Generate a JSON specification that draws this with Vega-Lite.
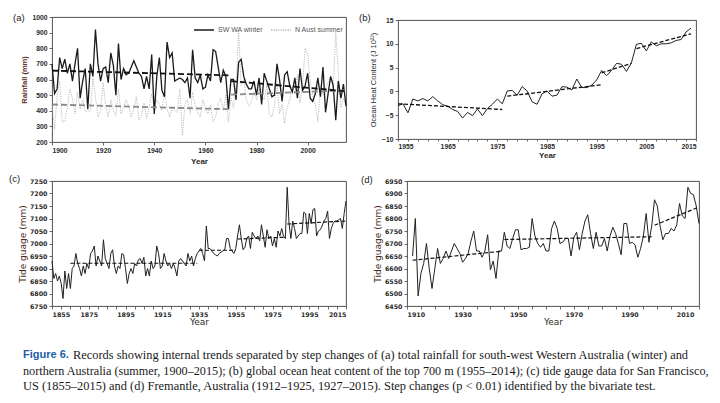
{
  "$schema": "https://vega.github.io/schema/vega-lite/v6.json",
  "background": "white",
  "padding": {"left": 8, "top": 12, "right": 2, "bottom": 0},
  "config": {
    "view": {"stroke": "#404040", "strokeWidth": 0.9},
    "axis": {"grid": false, "domain": false, "tickColor": "#444", "tickSize": 3, "tickWidth": 0.8, "labelColor": "#2b2b2b", "labelFont": "Liberation Sans", "labelFontWeight": "bold", "labelFontSize": 6.8, "labelPadding": 2, "titleFont": "Liberation Sans", "titleFontSize": 8, "titleColor": "#2b2b2b", "titleFontWeight": "bold", "labelOverlap": false},
    "title": {"font": "Liberation Sans", "fontSize": 9.5, "fontWeight": "normal", "color": "#222", "anchor": "start", "frame": "group", "offset": -8}
  },
  "datasets": {
    "rain": [
      {"year":1900,"sw":700,"na":440},{"year":1901,"sw":510,"na":280},{"year":1902,"sw":540,"na":500},{"year":1903,"sw":740,"na":590},{"year":1904,"sw":670,"na":330},{"year":1905,"sw":730,"na":330},{"year":1906,"sw":640,"na":420},{"year":1907,"sw":700,"na":540},{"year":1908,"sw":590,"na":480},{"year":1909,"sw":700,"na":380},
      {"year":1910,"sw":800,"na":520},{"year":1911,"sw":480,"na":410},{"year":1912,"sw":590,"na":470},{"year":1913,"sw":670,"na":400},{"year":1914,"sw":410,"na":390},{"year":1915,"sw":700,"na":400},{"year":1916,"sw":620,"na":610},{"year":1917,"sw":920,"na":490},{"year":1918,"sw":700,"na":360},{"year":1919,"sw":590,"na":400},
      {"year":1920,"sw":670,"na":580},{"year":1921,"sw":680,"na":430},{"year":1922,"sw":580,"na":360},{"year":1923,"sw":770,"na":470},{"year":1924,"sw":690,"na":400},{"year":1925,"sw":500,"na":370},{"year":1926,"sw":830,"na":540},{"year":1927,"sw":600,"na":380},{"year":1928,"sw":670,"na":420},{"year":1929,"sw":630,"na":470},
      {"year":1930,"sw":640,"na":430},{"year":1931,"sw":680,"na":360},{"year":1932,"sw":720,"na":410},{"year":1933,"sw":680,"na":490},{"year":1934,"sw":640,"na":340},{"year":1935,"sw":620,"na":370},{"year":1936,"sw":540,"na":450},{"year":1937,"sw":620,"na":350},{"year":1938,"sw":540,"na":420},{"year":1939,"sw":760,"na":510},
      {"year":1940,"sw":380,"na":410},{"year":1941,"sw":620,"na":470},{"year":1942,"sw":740,"na":440},{"year":1943,"sw":530,"na":400},{"year":1944,"sw":490,"na":530},{"year":1945,"sw":840,"na":410},{"year":1946,"sw":740,"na":360},{"year":1947,"sw":770,"na":420},{"year":1948,"sw":590,"na":400},{"year":1949,"sw":600,"na":390},
      {"year":1950,"sw":610,"na":540},{"year":1951,"sw":600,"na":240},{"year":1952,"sw":580,"na":440},{"year":1953,"sw":610,"na":470},{"year":1954,"sw":480,"na":380},{"year":1955,"sw":790,"na":520},{"year":1956,"sw":610,"na":430},{"year":1957,"sw":580,"na":390},{"year":1958,"sw":630,"na":360},{"year":1959,"sw":540,"na":470},
      {"year":1960,"sw":550,"na":420},{"year":1961,"sw":630,"na":380},{"year":1962,"sw":590,"na":440},{"year":1963,"sw":790,"na":330},{"year":1964,"sw":780,"na":360},{"year":1965,"sw":680,"na":450},{"year":1966,"sw":580,"na":480},{"year":1967,"sw":660,"na":400},{"year":1968,"sw":620,"na":500},{"year":1969,"sw":410,"na":330},
      {"year":1970,"sw":600,"na":480},{"year":1971,"sw":600,"na":420},{"year":1972,"sw":470,"na":560},{"year":1973,"sw":710,"na":910},{"year":1974,"sw":730,"na":560},{"year":1975,"sw":620,"na":600},{"year":1976,"sw":570,"na":470},{"year":1977,"sw":540,"na":430},{"year":1978,"sw":540,"na":460},{"year":1979,"sw":590,"na":520},
      {"year":1980,"sw":500,"na":470},{"year":1981,"sw":610,"na":540},{"year":1982,"sw":440,"na":500},{"year":1983,"sw":640,"na":470},{"year":1984,"sw":590,"na":560},{"year":1985,"sw":540,"na":380},{"year":1986,"sw":490,"na":360},{"year":1987,"sw":500,"na":430},{"year":1988,"sw":700,"na":590},{"year":1989,"sw":600,"na":380},
      {"year":1990,"sw":460,"na":440},{"year":1991,"sw":630,"na":320},{"year":1992,"sw":650,"na":420},{"year":1993,"sw":560,"na":470},{"year":1994,"sw":520,"na":560},{"year":1995,"sw":610,"na":510},{"year":1996,"sw":480,"na":630},{"year":1997,"sw":670,"na":450},{"year":1998,"sw":530,"na":560},{"year":1999,"sw":560,"na":800},
      {"year":2000,"sw":640,"na":760},{"year":2001,"sw":480,"na":590},{"year":2002,"sw":460,"na":490},{"year":2003,"sw":510,"na":440},{"year":2004,"sw":610,"na":330},{"year":2005,"sw":490,"na":560},{"year":2006,"sw":680,"na":500},{"year":2007,"sw":390,"na":550},{"year":2008,"sw":510,"na":580},{"year":2009,"sw":620,"na":620},
      {"year":2010,"sw":560,"na":540},{"year":2011,"sw":340,"na":900},{"year":2012,"sw":590,"na":650},{"year":2013,"sw":480,"na":420},{"year":2014,"sw":570,"na":480},{"year":2015,"sw":430,"na":430}
    ],
    "rainTrend": [
      {"year":1900,"seg":1,"sw":657,"na":440},{"year":1969,"seg":1,"sw":627,"na":410},
      {"year":1970,"seg":2,"sw":590,"na":503},{"year":2015,"seg":2,"sw":525,"na":530}
    ],
    "ohc": [
      {"year":1955,"ohc":-3.0},{"year":1956,"ohc":-2.6},{"year":1957,"ohc":-4.5},{"year":1958,"ohc":-1.6},{"year":1959,"ohc":-2.0},{"year":1960,"ohc":-1.5},{"year":1961,"ohc":-2.0},{"year":1962,"ohc":-1.1},{"year":1963,"ohc":-2.0},{"year":1964,"ohc":-2.8},
      {"year":1965,"ohc":-3.1},{"year":1966,"ohc":-3.8},{"year":1967,"ohc":-4.2},{"year":1968,"ohc":-5.6},{"year":1969,"ohc":-4.4},{"year":1970,"ohc":-5.1},{"year":1971,"ohc":-3.7},{"year":1972,"ohc":-5.1},{"year":1973,"ohc":-3.6},{"year":1974,"ohc":-2.7},
      {"year":1975,"ohc":-1.6},{"year":1976,"ohc":-2.6},{"year":1977,"ohc":0.1},{"year":1978,"ohc":0.2},{"year":1979,"ohc":-0.8},{"year":1980,"ohc":1.0},{"year":1981,"ohc":0.1},{"year":1982,"ohc":-2.2},{"year":1983,"ohc":-2.7},{"year":1984,"ohc":-0.5},
      {"year":1985,"ohc":0.1},{"year":1986,"ohc":-1.0},{"year":1987,"ohc":-0.8},{"year":1988,"ohc":1.0},{"year":1989,"ohc":0.9},{"year":1990,"ohc":0.3},{"year":1991,"ohc":2.6},{"year":1992,"ohc":0.8},{"year":1993,"ohc":0.8},{"year":1994,"ohc":1.3},
      {"year":1995,"ohc":2.4},{"year":1996,"ohc":4.4},{"year":1997,"ohc":3.3},{"year":1998,"ohc":4.4},{"year":1999,"ohc":5.9},{"year":2000,"ohc":5.7},{"year":2001,"ohc":4.2},{"year":2002,"ohc":6.0},{"year":2003,"ohc":9.9},{"year":2004,"ohc":10.1},
      {"year":2005,"ohc":8.5},{"year":2006,"ohc":10.4},{"year":2007,"ohc":9.6},{"year":2008,"ohc":10.0},{"year":2009,"ohc":10.0},{"year":2010,"ohc":10.2},{"year":2011,"ohc":10.7},{"year":2012,"ohc":10.9},{"year":2013,"ohc":12.5},{"year":2014,"ohc":13.3}
    ],
    "ohcTrend": [
      {"year":1955,"seg":1,"ohc":-2.6},{"year":1976,"seg":1,"ohc":-3.8},
      {"year":1977,"seg":2,"ohc":-1.0},{"year":1996,"seg":2,"ohc":1.4},
      {"year":1996,"seg":3,"ohc":3.9},{"year":2002,"seg":3,"ohc":5.9},
      {"year":2003,"seg":4,"ohc":9.0},{"year":2014,"seg":4,"ohc":12.1}
    ],
    "sf": [
      {"year":1855,"mm":6930},{"year":1856,"mm":6860},{"year":1857,"mm":6880},{"year":1858,"mm":6850},{"year":1859,"mm":6870},{"year":1860,"mm":6840},{"year":1861,"mm":6780},{"year":1862,"mm":6890},{"year":1863,"mm":6820},{"year":1864,"mm":6880},
      {"year":1865,"mm":6820},{"year":1866,"mm":6900},{"year":1867,"mm":6910},{"year":1868,"mm":6960},{"year":1869,"mm":6920},{"year":1870,"mm":6900},{"year":1871,"mm":6870},{"year":1872,"mm":6910},{"year":1873,"mm":6880},{"year":1874,"mm":6920},
      {"year":1875,"mm":6900},{"year":1876,"mm":6960},{"year":1877,"mm":6970},{"year":1878,"mm":6990},{"year":1879,"mm":6910},{"year":1880,"mm":6950},{"year":1881,"mm":6930},{"year":1882,"mm":6910},{"year":1883,"mm":7015},{"year":1884,"mm":6940},
      {"year":1885,"mm":6920},{"year":1886,"mm":6900},{"year":1887,"mm":6960},{"year":1888,"mm":6975},{"year":1889,"mm":6910},{"year":1890,"mm":6880},{"year":1891,"mm":6910},{"year":1892,"mm":6900},{"year":1893,"mm":6960},{"year":1894,"mm":6955},
      {"year":1895,"mm":6900},{"year":1896,"mm":6840},{"year":1897,"mm":6880},{"year":1898,"mm":6900},{"year":1899,"mm":6880},{"year":1900,"mm":6920},{"year":1901,"mm":6910},{"year":1902,"mm":6935},{"year":1903,"mm":6940},{"year":1904,"mm":6920},
      {"year":1905,"mm":6945},{"year":1906,"mm":6870},{"year":1907,"mm":6900},{"year":1908,"mm":6870},{"year":1909,"mm":6930},{"year":1910,"mm":6900},{"year":1911,"mm":6910},{"year":1912,"mm":6990},{"year":1913,"mm":6960},{"year":1914,"mm":6900},
      {"year":1915,"mm":6910},{"year":1916,"mm":6960},{"year":1917,"mm":6930},{"year":1918,"mm":6910},{"year":1919,"mm":6920},{"year":1920,"mm":6900},{"year":1921,"mm":6920},{"year":1922,"mm":6900},{"year":1923,"mm":6870},{"year":1924,"mm":6930},
      {"year":1925,"mm":6940},{"year":1926,"mm":6930},{"year":1927,"mm":6920},{"year":1928,"mm":6910},{"year":1929,"mm":6960},{"year":1930,"mm":6930},{"year":1931,"mm":6950},{"year":1932,"mm":6910},{"year":1933,"mm":6940},{"year":1934,"mm":6960},
      {"year":1935,"mm":6970},{"year":1936,"mm":6980},{"year":1937,"mm":6960},{"year":1938,"mm":6930},{"year":1939,"mm":7070},{"year":1940,"mm":6980},{"year":1941,"mm":6980},{"year":1942,"mm":6970},{"year":1943,"mm":6960},{"year":1944,"mm":6955},
      {"year":1945,"mm":6950},{"year":1946,"mm":6960},{"year":1947,"mm":6965},{"year":1948,"mm":6970},{"year":1949,"mm":6975},{"year":1950,"mm":7020},{"year":1951,"mm":7020},{"year":1952,"mm":6980},{"year":1953,"mm":6970},{"year":1954,"mm":6960},
      {"year":1955,"mm":6980},{"year":1956,"mm":7030},{"year":1957,"mm":7075},{"year":1958,"mm":7020},{"year":1959,"mm":6975},{"year":1960,"mm":6985},{"year":1961,"mm":7020},{"year":1962,"mm":7030},{"year":1963,"mm":6980},{"year":1964,"mm":7045},
      {"year":1965,"mm":7030},{"year":1966,"mm":7020},{"year":1967,"mm":7030},{"year":1968,"mm":7010},{"year":1969,"mm":7075},{"year":1970,"mm":7030},{"year":1971,"mm":6985},{"year":1972,"mm":7055},{"year":1973,"mm":7020},{"year":1974,"mm":7030},
      {"year":1975,"mm":6990},{"year":1976,"mm":7020},{"year":1977,"mm":6985},{"year":1978,"mm":7050},{"year":1979,"mm":7030},{"year":1980,"mm":7060},{"year":1981,"mm":7030},{"year":1982,"mm":7020},{"year":1983,"mm":7225},{"year":1984,"mm":7080},
      {"year":1985,"mm":7020},{"year":1986,"mm":7090},{"year":1987,"mm":7060},{"year":1988,"mm":7020},{"year":1989,"mm":7030},{"year":1990,"mm":7040},{"year":1991,"mm":7040},{"year":1992,"mm":7125},{"year":1993,"mm":7120},{"year":1994,"mm":7040},
      {"year":1995,"mm":7120},{"year":1996,"mm":7080},{"year":1997,"mm":7135},{"year":1998,"mm":7140},{"year":1999,"mm":7030},{"year":2000,"mm":7050},{"year":2001,"mm":7055},{"year":2002,"mm":7070},{"year":2003,"mm":7090},{"year":2004,"mm":7100},
      {"year":2005,"mm":7130},{"year":2006,"mm":7020},{"year":2007,"mm":7060},{"year":2008,"mm":7080},{"year":2009,"mm":7090},{"year":2010,"mm":7090},{"year":2011,"mm":7095},{"year":2012,"mm":7100},{"year":2013,"mm":7060},{"year":2014,"mm":7120},
      {"year":2015,"mm":7170}
    ],
    "sfTrend": [
      {"year":1865,"seg":1,"mm":6921},{"year":1934,"seg":1,"mm":6921},
      {"year":1935,"seg":2,"mm":6973},{"year":1955,"seg":2,"mm":6973},
      {"year":1956,"seg":3,"mm":7018},{"year":1982,"seg":3,"mm":7025},
      {"year":1983,"seg":4,"mm":7078},{"year":2015,"seg":4,"mm":7090}
    ],
    "fre": [
      {"year":1912,"mm":6650},{"year":1913,"mm":6800},{"year":1914,"mm":6490},{"year":1915,"mm":6580},{"year":1916,"mm":6620},{"year":1917,"mm":6700},{"year":1918,"mm":6600},{"year":1919,"mm":6520},{"year":1920,"mm":6600},{"year":1921,"mm":6680},
      {"year":1922,"mm":6620},{"year":1923,"mm":6640},{"year":1924,"mm":6670},{"year":1925,"mm":6640},{"year":1927,"mm":6700},{"year":1928,"mm":6680},{"year":1929,"mm":6660},{"year":1930,"mm":6625},{"year":1931,"mm":6640},
      {"year":1932,"mm":6660},{"year":1933,"mm":6710},{"year":1934,"mm":6750},{"year":1935,"mm":6670},{"year":1936,"mm":6670},{"year":1937,"mm":6645},{"year":1938,"mm":6670},{"year":1939,"mm":6735},{"year":1940,"mm":6595},{"year":1941,"mm":6630},
      {"year":1942,"mm":6560},{"year":1943,"mm":6670},{"year":1944,"mm":6670},{"year":1945,"mm":6745},{"year":1946,"mm":6690},{"year":1947,"mm":6680},{"year":1948,"mm":6720},{"year":1949,"mm":6755},{"year":1950,"mm":6755},{"year":1951,"mm":6675},
      {"year":1952,"mm":6680},{"year":1953,"mm":6680},{"year":1954,"mm":6685},{"year":1955,"mm":6800},{"year":1956,"mm":6730},{"year":1957,"mm":6700},{"year":1958,"mm":6685},{"year":1959,"mm":6700},{"year":1960,"mm":6670},{"year":1961,"mm":6670},
      {"year":1962,"mm":6760},{"year":1963,"mm":6790},{"year":1964,"mm":6760},{"year":1965,"mm":6700},{"year":1966,"mm":6705},{"year":1967,"mm":6720},{"year":1968,"mm":6720},{"year":1969,"mm":6650},{"year":1970,"mm":6725},{"year":1971,"mm":6745},
      {"year":1972,"mm":6675},{"year":1973,"mm":6740},{"year":1974,"mm":6790},{"year":1975,"mm":6815},{"year":1976,"mm":6740},{"year":1977,"mm":6680},{"year":1978,"mm":6745},{"year":1979,"mm":6690},{"year":1980,"mm":6690},{"year":1981,"mm":6720},
      {"year":1982,"mm":6670},{"year":1983,"mm":6730},{"year":1984,"mm":6765},{"year":1985,"mm":6740},{"year":1986,"mm":6700},{"year":1987,"mm":6655},{"year":1988,"mm":6780},{"year":1989,"mm":6780},{"year":1990,"mm":6700},{"year":1991,"mm":6705},
      {"year":1992,"mm":6695},{"year":1993,"mm":6645},{"year":1994,"mm":6680},{"year":1995,"mm":6730},{"year":1996,"mm":6820},{"year":1997,"mm":6705},{"year":1998,"mm":6770},{"year":1999,"mm":6875},{"year":2000,"mm":6850},{"year":2001,"mm":6770},
      {"year":2002,"mm":6715},{"year":2003,"mm":6740},{"year":2004,"mm":6740},{"year":2005,"mm":6760},{"year":2006,"mm":6750},{"year":2007,"mm":6775},{"year":2008,"mm":6860},{"year":2009,"mm":6810},{"year":2010,"mm":6800},{"year":2011,"mm":6925},
      {"year":2012,"mm":6900},{"year":2013,"mm":6895},{"year":2014,"mm":6850},{"year":2015,"mm":6780}
    ],
    "freTrend": [
      {"year":1912,"seg":1,"mm":6633},{"year":1944,"seg":1,"mm":6669},
      {"year":1945,"seg":2,"mm":6716},{"year":1998,"seg":2,"mm":6727},
      {"year":1999,"seg":3,"mm":6773},{"year":2015,"seg":3,"mm":6846}
    ],
    "caption": [
      {"line":"1","part":"lead","text":"Figure 6."},
      {"line":"1","part":"body","text":"Records showing internal trends separated by step changes of (a) total rainfall for south-west Western Australia (winter) and"},
      {"line":"2","part":"body","text":"northern Australia (summer, 1900–2015); (b) global ocean heat content of the top 700 m (1955–2014); (c) tide gauge data for San Francisco,"},
      {"line":"3","part":"body","text":"US (1855–2015) and (d) Fremantle, Australia (1912–1925, 1927–2015). Step changes (p < 0.01) identified by the bivariate test."}
    ]
  },
  "vconcat": [
    {
      "hconcat": [
        {
          "width": 294, "height": 125,
          "title": {"text": "(a)", "dx": -39, "offset": -8},
          "layer": [
            {
              "data": {"name": "rain"},
              "mark": {"type": "line", "strokeWidth": 0.9},
              "encoding": {
                "x": {"field": "year", "type": "quantitative", "scale": {"domain": [1900, 2015], "nice": false}, "axis": {"values": [1900, 1920, 1940, 1960, 1980, 2000], "tickCount": 200, "format": "d", "title": "Year", "titlePadding": 4, "labelOverlap": false}},
                "y": {"field": "na", "type": "quantitative", "scale": {"domain": [200, 1000], "nice": false}, "axis": {"values": [200, 300, 400, 500, 600, 700, 800, 900, 1000], "tickCount": 200, "format": "d", "title": "Rainfall (mm)", "titleColor": "#5b3526", "titleFontSize": 7.5, "titlePadding": 3, "labelOverlap": false}},
                "color": {"datum": "N Aust summer", "scale": {"domain": ["SW WA winter", "N Aust summer"], "range": ["#1a1a1a", "#b3b3b3"]}, "legend": {"orient": "top-right", "direction": "horizontal", "title": null, "symbolType": "stroke", "symbolSize": 400, "symbolStrokeWidth": 1.4, "labelFontSize": 7, "labelColor": "#555", "labelFont": "Liberation Sans", "offset": 2, "padding": 0, "columnPadding": 5, "labelOffset": 3}},
                "strokeDash": {"datum": "N Aust summer", "scale": {"domain": ["SW WA winter", "N Aust summer"], "range": [[1, 0], [1.2, 1.2]]}, "legend": {"orient": "top-right", "direction": "horizontal", "title": null, "symbolType": "stroke", "symbolSize": 400, "symbolStrokeWidth": 1.4, "labelFontSize": 7, "labelColor": "#555", "labelFont": "Liberation Sans", "offset": 2, "padding": 0, "columnPadding": 5, "labelOffset": 3}}
              }
            },
            {
              "data": {"name": "rain"},
              "mark": {"type": "line", "strokeWidth": 1.3},
              "encoding": {
                "x": {"field": "year", "type": "quantitative"},
                "y": {"field": "sw", "type": "quantitative"},
                "color": {"datum": "SW WA winter"},
                "strokeDash": {"datum": "SW WA winter"}
              }
            },
            {
              "data": {"name": "rainTrend"},
              "mark": {"type": "line", "color": "#8a8a8a", "strokeWidth": 1.8, "strokeDash": [6, 3]},
              "encoding": {"x": {"field": "year", "type": "quantitative"}, "y": {"field": "na", "type": "quantitative"}, "detail": {"field": "seg"}}
            },
            {
              "data": {"name": "rainTrend"},
              "mark": {"type": "line", "color": "#111", "strokeWidth": 1.8, "strokeDash": [6, 3]},
              "encoding": {"x": {"field": "year", "type": "quantitative"}, "y": {"field": "sw", "type": "quantitative"}, "detail": {"field": "seg"}}
            }
          ]
        },
        {
          "width": 298, "height": 119,
          "title": {"text": "(b)", "dx": -39, "offset": -5},
          "layer": [
            {
              "data": {"name": "ohc"},
              "mark": {"type": "line", "color": "#222", "strokeWidth": 1},
              "encoding": {
                "x": {"field": "year", "type": "quantitative", "scale": {"domain": [1955, 2015], "nice": false}, "axis": {"values": [1955,1957,1959,1961,1963,1965,1967,1969,1971,1973,1975,1977,1979,1981,1983,1985,1987,1989,1991,1993,1995,1997,1999,2001,2003,2005,2007,2009,2011,2013,2015], "tickCount": 200, "labelExpr": "(datum.value - 1955) % 10 == 0 ? datum.value : ''", "title": "Year", "titlePadding": 2, "tickSize": 2, "labelOverlap": false}},
                "y": {"field": "ohc", "type": "quantitative", "scale": {"domain": [-10, 15], "nice": false}, "axis": {"values": [-10, -5, 0, 5, 10, 15], "tickCount": 200, "format": "d", "title": "Ocean Heat Content (J 10²²)", "titleFontWeight": "normal", "titleFontSize": 7.5, "titlePadding": 4, "labelOverlap": false}}
              }
            },
            {
              "data": {"name": "ohcTrend"},
              "mark": {"type": "line", "color": "#111", "strokeWidth": 1.3, "strokeDash": [4, 2]},
              "encoding": {"x": {"field": "year", "type": "quantitative"}, "y": {"field": "ohc", "type": "quantitative"}, "detail": {"field": "seg"}}
            }
          ]
        }
      ],
      "spacing": 52,
      "center": true,
      "bounds": "flush",
      "resolve": {"scale": {"color": "independent", "strokeDash": "independent"}, "legend": {"color": "independent", "strokeDash": "independent"}}
    },
    {
      "hconcat": [
        {
          "width": 294, "height": 125,
          "title": {"text": "(c)", "dx": -43, "offset": -5},
          "layer": [
            {
              "data": {"name": "sf"},
              "mark": {"type": "line", "color": "#222", "strokeWidth": 1},
              "encoding": {
                "x": {"field": "year", "type": "quantitative", "scale": {"domain": [1855, 2015], "nice": false}, "axis": {"values": [1855,1860,1865,1870,1875,1880,1885,1890,1895,1900,1905,1910,1915,1920,1925,1930,1935,1940,1945,1950,1955,1960,1965,1970,1975,1980,1985,1990,1995,2000,2005,2010,2015], "tickCount": 200, "labelExpr": "(datum.value - 1855) % 20 == 0 ? datum.value : ''", "title": "Year", "labelFont": "DejaVu Sans", "labelFontSize": 6.3, "titleFont": "DejaVu Sans", "titleFontSize": 9, "titleFontWeight": "normal", "titlePadding": 0, "labelOverlap": false}},
                "y": {"field": "mm", "type": "quantitative", "scale": {"domain": [6750, 7250], "nice": false, "zero": false}, "axis": {"values": [6750,6800,6850,6900,6950,7000,7050,7100,7150,7200,7250], "tickCount": 200, "format": "d", "title": "Tide guage (mm)", "labelFont": "DejaVu Sans", "labelFontSize": 6.3, "titleFont": "DejaVu Sans", "titleFontSize": 9, "titleFontWeight": "normal", "titleColor": "#4a2a22", "titlePadding": 2, "labelOverlap": false}}
              }
            },
            {
              "data": {"name": "sfTrend"},
              "mark": {"type": "line", "color": "#111", "strokeWidth": 1.2, "strokeDash": [4, 2]},
              "encoding": {"x": {"field": "year", "type": "quantitative"}, "y": {"field": "mm", "type": "quantitative"}, "detail": {"field": "seg"}}
            }
          ]
        },
        {
          "width": 292, "height": 125,
          "title": {"text": "(d)", "dx": -46, "offset": -6},
          "layer": [
            {
              "data": {"name": "fre"},
              "mark": {"type": "line", "color": "#222", "strokeWidth": 1},
              "encoding": {
                "x": {"field": "year", "type": "quantitative", "scale": {"domain": [1910, 2015], "nice": false}, "axis": {"values": [1910,1915,1920,1925,1930,1935,1940,1945,1950,1955,1960,1965,1970,1975,1980,1985,1990,1995,2000,2005,2010,2015], "tickCount": 200, "labelExpr": "(datum.value - 1910) % 20 == 0 ? datum.value : ''", "title": "Year", "labelFont": "DejaVu Sans", "labelFontSize": 6.3, "titleFont": "DejaVu Sans", "titleFontSize": 9, "titleFontWeight": "normal", "titlePadding": 0, "labelOverlap": false}},
                "y": {"field": "mm", "type": "quantitative", "scale": {"domain": [6450, 6950], "nice": false, "zero": false}, "axis": {"values": [6450,6500,6550,6600,6650,6700,6750,6800,6850,6900,6950], "tickCount": 200, "format": "d", "title": "Tide guage (mm)", "labelFont": "DejaVu Sans", "labelFontSize": 6.3, "titleFont": "DejaVu Sans", "titleFontSize": 9, "titleFontWeight": "normal", "titleColor": "#4a2a22", "titlePadding": 2, "labelOverlap": false}}
              }
            },
            {
              "data": {"name": "freTrend"},
              "mark": {"type": "line", "color": "#111", "strokeWidth": 1.2, "strokeDash": [4, 2]},
              "encoding": {"x": {"field": "year", "type": "quantitative"}, "y": {"field": "mm", "type": "quantitative"}, "detail": {"field": "seg"}}
            }
          ]
        }
      ],
      "spacing": 61,
      "center": true,
      "bounds": "flush"
    },
    {
      "width": 640, "height": 60,
      "view": {"stroke": null},
      "data": {"name": "caption"},
      "encoding": {"y": {"field": "line", "type": "ordinal", "axis": null, "scale": {"type": "point", "padding": 0, "range": [22, 53]}}},
      "layer": [
        {
          "transform": [{"filter": "datum.part == 'lead'"}],
          "mark": {"type": "text", "align": "left", "baseline": "middle", "font": "Liberation Sans Narrow, Liberation Sans", "fontWeight": "bold", "fontSize": 11, "color": "#2260a8"},
          "encoding": {"x": {"value": -29}, "text": {"field": "text"}}
        },
        {
          "transform": [{"filter": "datum.part == 'body' && datum.line == '1'"}],
          "mark": {"type": "text", "align": "left", "baseline": "middle", "font": "Liberation Serif", "fontSize": 12.4, "color": "#1a1a1a"},
          "encoding": {"x": {"value": 21}, "text": {"field": "text"}}
        },
        {
          "transform": [{"filter": "datum.part == 'body' && datum.line == '2'"}],
          "mark": {"type": "text", "align": "left", "baseline": "middle", "font": "Liberation Serif", "fontSize": 12.2, "color": "#1a1a1a"},
          "encoding": {"x": {"value": -29}, "text": {"field": "text"}}
        },
        {
          "transform": [{"filter": "datum.part == 'body' && datum.line == '3'"}],
          "mark": {"type": "text", "align": "left", "baseline": "middle", "font": "Liberation Serif", "fontSize": 12.4, "color": "#1a1a1a"},
          "encoding": {"x": {"value": -29}, "text": {"field": "text"}}
        }
      ]
    }
  ],
  "spacing": 6,
  "resolve": {"scale": {"color": "independent", "strokeDash": "independent"}, "legend": {"color": "independent", "strokeDash": "independent"}}
}
